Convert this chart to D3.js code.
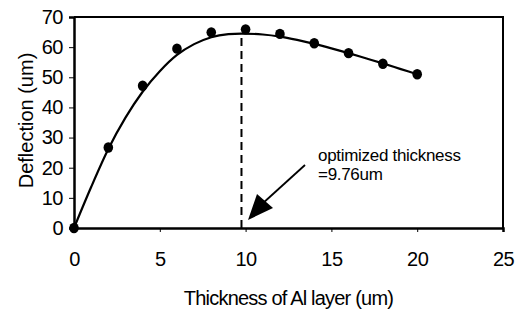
<!DOCTYPE html>
<html>
<head>
<meta charset="utf-8">
<script src="https://cdn.jsdelivr.net/npm/d3@7"></script>
<style>
  body { margin: 0; background: #fff; }
  text { font-family: "Liberation Sans", Arial, sans-serif; fill: #000; }
</style>
</head>
<body>
<svg id="chart" width="516" height="312"></svg>
<script>
// Measured points
const thickness = [0, 2, 4, 6, 8, 10, 12, 14, 16, 18, 20];
const deflection = [0, 26.7, 47.2, 59.5, 64.9, 65.9, 64.4, 61.3, 58.0, 54.5, 51.0];

// Fitted curve
const fitX = [0, 1, 2, 3, 4, 5, 6, 7, 8, 9, 9.76, 11, 12, 13, 14, 15, 16, 17, 18, 19, 20];
const fitY = [0, 13.6, 26.2, 36.6, 45.2, 52.0, 57.4, 61.0, 63.3, 64.3, 64.5, 64.2, 63.5, 62.4, 61.1, 59.6, 58.0, 56.3, 54.6, 52.8, 51.0];

const xTicks = [0, 5, 10, 15, 20, 25];
const yTicks = [0, 10, 20, 30, 40, 50, 60, 70];
const optimum = 9.76;
const optimumY = 64.5;

const width = 516;
const height = 312;
const margin = { top: 17, right: 13, bottom: 84, left: 74 };

const svg = d3.select("#chart");

const x = d3.scaleLinear()
    .domain([0, 25])
    .range([margin.left, width - margin.right]);

const y = d3.scaleLinear()
    .domain([0, 70])
    .range([height - margin.bottom, margin.top]);

// frame (top and right)
svg.append("path")
    .attr("d", `M${x(0)},${y(70)}H${x(25)}V${y(0)}`)
    .attr("fill", "none")
    .attr("stroke", "#000")
    .attr("stroke-width", 2);

// x axis
const xAxis = svg.append("g")
    .attr("transform", `translate(0,${y(0)})`)
    .call(d3.axisBottom(x).tickValues(xTicks).tickSize(4).tickPadding(20));
xAxis.select(".domain").attr("stroke-width", 2.5);
xAxis.selectAll(".tick text")
    .attr("font-size", 20)
    .attr("letter-spacing", "-0.5px")
    .attr("font-family", "Liberation Sans, Arial, sans-serif");

// y axis
const yAxis = svg.append("g")
    .attr("transform", `translate(${x(0)},0)`)
    .call(d3.axisLeft(y).tickValues(yTicks).tickSize(5).tickPadding(6));
yAxis.select(".domain").attr("stroke-width", 2.5);
yAxis.selectAll(".tick text")
    .attr("font-size", 20)
    .attr("letter-spacing", "-0.5px")
    .attr("font-family", "Liberation Sans, Arial, sans-serif");

// axis titles
svg.append("text")
    .attr("x", (x(0) + x(25)) / 2)
    .attr("y", 305)
    .attr("text-anchor", "middle")
    .attr("font-size", 20)
    .attr("letter-spacing", "-0.8px")
    .text("Thickness of Al layer (um)");

svg.append("text")
    .attr("transform", `translate(33,${(y(0) + y(70)) / 2 - 2}) rotate(-90)`)
    .attr("text-anchor", "middle")
    .attr("font-size", 20)
    .text("Deflection (um)");

// dashed line at the optimum
svg.append("line")
    .attr("x1", x(optimum)).attr("x2", x(optimum))
    .attr("y1", y(0)).attr("y2", y(optimumY))
    .attr("stroke", "#000")
    .attr("stroke-width", 2)
    .attr("stroke-dasharray", "8,5");

// fitted curve
const line = d3.line()
    .x((d, i) => x(fitX[i]))
    .y(d => y(d))
    .curve(d3.curveMonotoneX);

svg.append("path")
    .datum(fitY)
    .attr("fill", "none")
    .attr("stroke", "#000")
    .attr("stroke-width", 2.2)
    .attr("d", line);

// data points
svg.selectAll(".pt")
    .data(deflection)
    .enter().append("ellipse")
    .attr("class", "pt")
    .attr("cx", (d, i) => x(thickness[i]))
    .attr("cy", d => y(d))
    .attr("rx", 4.8)
    .attr("ry", 5.2)
    .attr("fill", "#000");

// arrow + annotation
svg.append("path")
    .attr("d", "M248,220L257,194L273,208Z")
    .attr("fill", "#000");

svg.append("line")
    .attr("x1", 305).attr("y1", 165)
    .attr("x2", 262).attr("y2", 204)
    .attr("stroke", "#000")
    .attr("stroke-width", 1.8);

svg.append("text")
    .attr("x", 318).attr("y", 161)
    .attr("font-size", 17)
    .attr("letter-spacing", "-0.3px")
    .text("optimized thickness");

svg.append("text")
    .attr("x", 318).attr("y", 180)
    .attr("font-size", 17)
    .attr("letter-spacing", "-0.3px")
    .text("=9.76um");
</script>
</body>
</html>
